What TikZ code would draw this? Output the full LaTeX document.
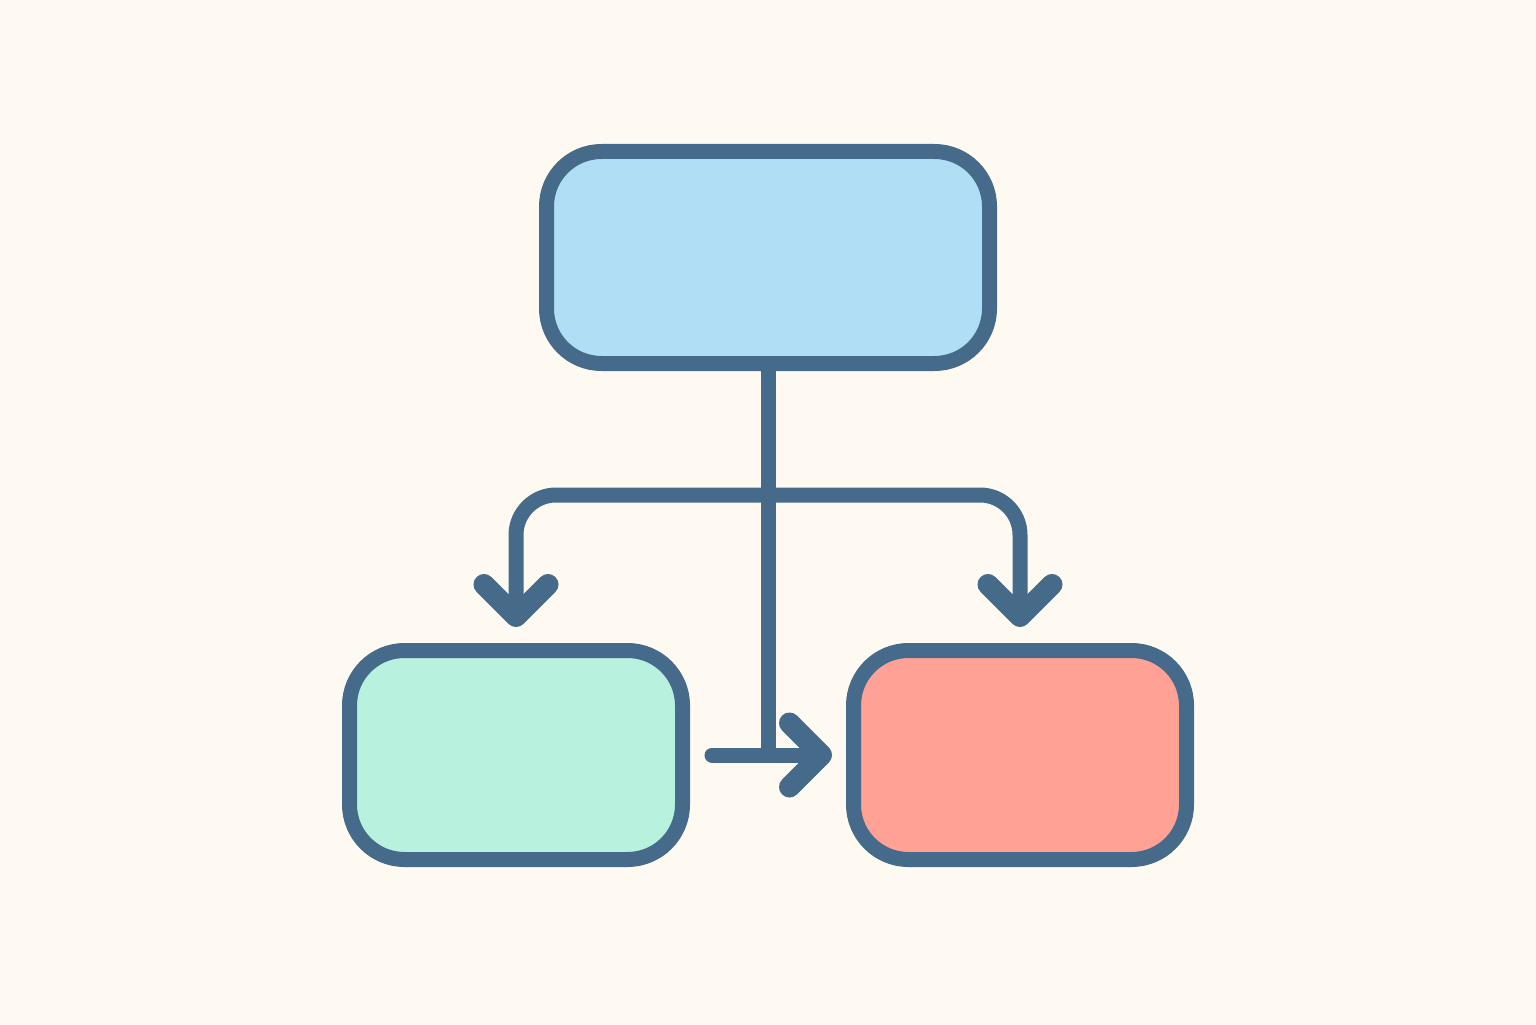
\documentclass[tikz,border=0pt]{standalone}
\usetikzlibrary{arrows.meta,calc}
\definecolor{bgcream}{HTML}{FEFAF2}
\definecolor{edgeblue}{HTML}{466B8A}
\definecolor{skyfill}{HTML}{B0DFF5}
\definecolor{mintfill}{HTML}{B8F2DF}
\definecolor{salmonfill}{HTML}{FFA194}
\tikzset{
	box/.style={draw=edgeblue, line width=0.15cm, rounded corners=0.55cm, inner sep=0pt},
	link/.style={draw=edgeblue, line width=0.15cm, line cap=round, line join=round},
	arr/.style={link, -{Straight Barb[length=3.2mm,width=6.4mm,line width=0.21cm,round]}}
}
\begin{document}
\begin{tikzpicture}
	%Background
	\fill[bgcream] (0,0) rectangle (15.36,10.24);
	\useasboundingbox (0,0) rectangle (15.36,10.24);

	%Boxes
	\node[box, fill=skyfill, minimum width=4.43cm, minimum height=2.12cm] (top) at (7.68,7.665) {};
	\node[box, fill=mintfill, minimum width=3.33cm, minimum height=2.09cm] (left) at (5.16,2.69) {};
	\node[box, fill=salmonfill, minimum width=3.33cm, minimum height=2.09cm] (right) at (10.20,2.69) {};

	%Coordinates
	\coordinate (split) at ([yshift=-1.24cm]top.south);
	\coordinate (join) at (top.south |- left.east);

	%Lines
	\draw[link] (top.south) -- (join);%stem
	\draw[arr, rounded corners=0.4cm, shorten >=0.16cm] (split) -| (left.north);%left branch
	\draw[arr, rounded corners=0.4cm, shorten >=0.16cm] (split) -| (right.north);%right branch
	\draw[arr, shorten <=0.22cm, shorten >=0.14cm] (left.east) -- (right.west);%across
\end{tikzpicture}
\end{document}
